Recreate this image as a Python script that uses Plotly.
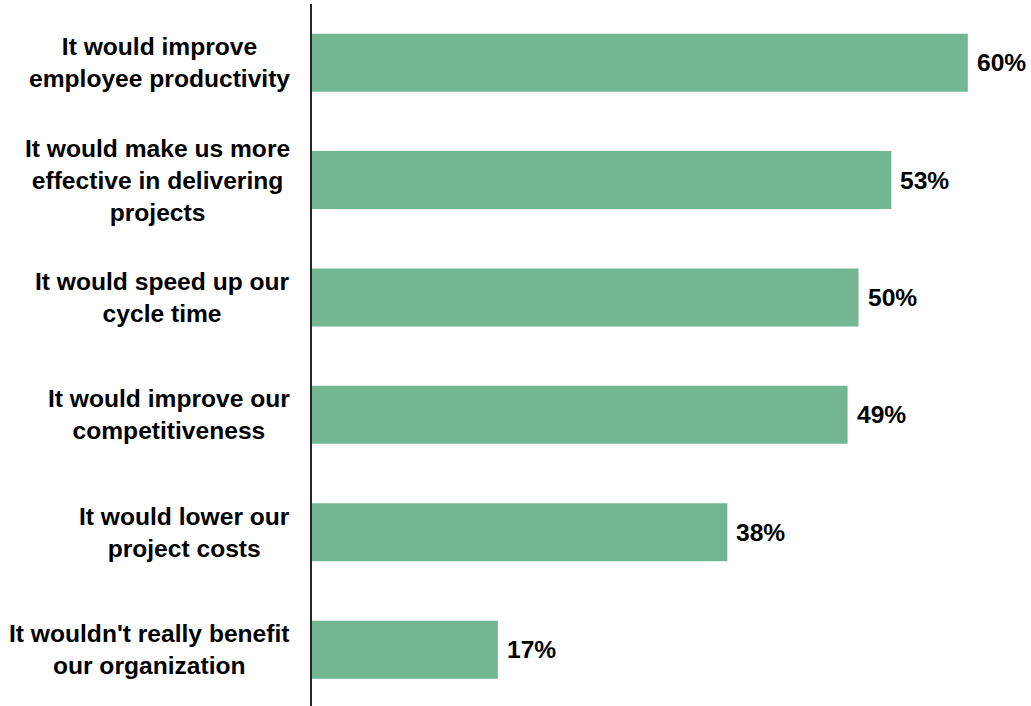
import plotly.graph_objects as go

# Survey responses: perceived benefits, share of respondents (%)
categories = [
    "It would improve<br>employee productivity",
    "It would make us more<br>effective in delivering<br>projects",
    "It would speed up our<br>cycle time",
    "It would improve our<br>competitiveness",
    "It would lower our<br>project costs",
    "It wouldn't really benefit<br>our organization",
]
values = [60, 53, 50, 49, 38, 17]

bar_color = "#72B692"
text_font = dict(family="Liberation Sans, Arial, sans-serif", size=24.6, color="#000000", weight="bold")

fig = go.Figure(
    go.Bar(
        x=values,
        y=categories,
        orientation="h",
        marker=dict(color=bar_color, line=dict(width=0)),
        hoverinfo="skip",
    )
)

annotations = []
# Category labels, centered text block to the left of the axis
for cat in categories:
    annotations.append(dict(
        x=0, xref="paper", y=cat, yref="y",
        text=cat, showarrow=False,
        xanchor="right", yanchor="middle", align="center",
        xshift=-20, font=text_font,
    ))
# Value labels at the end of each bar
for cat, v in zip(categories, values):
    annotations.append(dict(
        x=v, xref="x", y=cat, yref="y",
        text=f"{v}%", showarrow=False,
        xanchor="left", yanchor="middle", xshift=7,
        font=text_font,
    ))

fig.update_layout(
    width=1031, height=706,
    margin=dict(l=312, r=0, t=4, b=0),
    paper_bgcolor="white", plot_bgcolor="white",
    bargap=0.506,
    showlegend=False,
    annotations=annotations,
    xaxis=dict(range=[0, 65.78], visible=False, fixedrange=True),
    yaxis=dict(
        range=[5.48, -0.5], showticklabels=False, ticks="",
        showgrid=False, zeroline=False,
        showline=True, linecolor="#262626", linewidth=2,
        fixedrange=True,
    ),
)

fig.write_html("out.html", config={"displayModeBar": False})
